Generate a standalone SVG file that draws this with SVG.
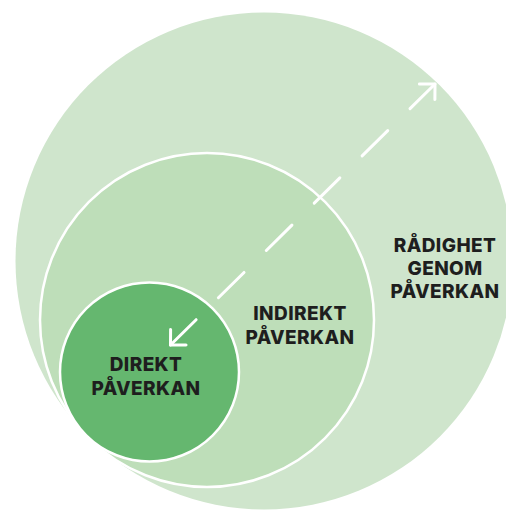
<svg xmlns="http://www.w3.org/2000/svg" width="506" height="511" viewBox="0 0 506 511">
  <style>
    .lbl { font-family: "Inter", "Noto Sans", "Liberation Sans", sans-serif; font-weight: 800; font-size: 19px; letter-spacing: 0.4px; fill: #1e1e1e; text-anchor: middle; }
    .ring { stroke: #ffffff; stroke-width: 2.5; }
    .conn { stroke: #ffffff; stroke-width: 3; stroke-linecap: round; fill: none; }
  </style>
  <defs>
    <marker id="chev" markerUnits="userSpaceOnUse" viewBox="-14 -14 16 28" refX="0" refY="0" markerWidth="16" markerHeight="28" orient="auto-start-reverse" overflow="visible">
      <path d="M-11,-11 L0,0 L-11,11" fill="none" stroke="#ffffff" stroke-width="3" stroke-linecap="round" stroke-linejoin="round"/>
    </marker>
  </defs>
  <rect width="506" height="511" fill="#ffffff"/>
  <g id="radighet">
    <circle cx="264" cy="261" r="248.5" fill="#cfe5cc"/>
    <text class="lbl" x="445" y="252">RÅDIGHET</text>
    <text class="lbl" x="445" y="275">GENOM</text>
    <text class="lbl" x="445" y="298">PÅVERKAN</text>
  </g>
  <g id="indirekt">
    <circle class="ring" cx="207" cy="320" r="167" fill="#bedeb9"/>
    <text class="lbl" x="300" y="320">INDIREKT</text>
    <text class="lbl" x="300" y="344">PÅVERKAN</text>
  </g>
  <g id="direkt">
    <circle class="ring" cx="149.5" cy="372" r="89.5" fill="#65b76f"/>
    <text class="lbl" x="146" y="371">DIREKT</text>
    <text class="lbl" x="146" y="395">PÅVERKAN</text>
  </g>
  <g id="connectors">
    <line class="conn" x1="170.5" y1="345" x2="435" y2="84" stroke-dasharray="36 31.3" marker-start="url(#chev)" marker-end="url(#chev)"/>
  </g>
</svg>
